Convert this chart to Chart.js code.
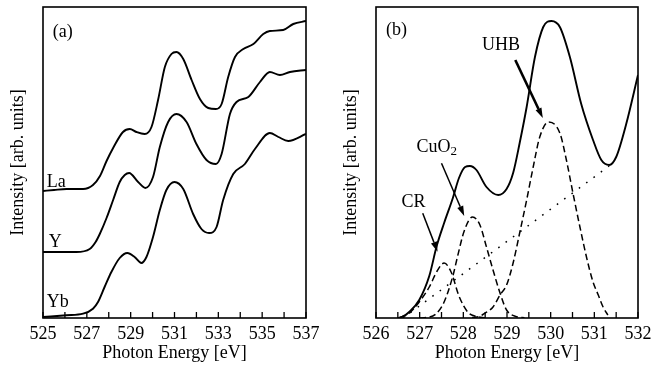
<!DOCTYPE html>
<html><head><meta charset="utf-8">
<script src="https://cdn.jsdelivr.net/npm/chart.js@4.4.1/dist/chart.umd.min.js"></script>
<style>
html,body{margin:0;padding:0;background:#fff;width:652px;height:369px;overflow:hidden;position:relative}
#wa{position:absolute;left:0;top:0;width:330px;height:369px}
#wb{position:absolute;left:330px;top:0;width:340px;height:369px}
</style></head><body>
<div id="wa"><canvas id="ca" width="330" height="369"></canvas></div>
<div id="wb"><canvas id="cb" width="340" height="369"></canvas></div>
<script>
// ---------- Panel (a): O K-edge spectra ----------
const laX = [525, 525.5, 526.07, 526.83, 527.28, 527.6, 527.9, 528.2, 528.65, 528.96, 529.26, 529.64, 529.95, 530.25, 530.56, 530.86, 531.09, 531.4, 531.78, 532.16, 532.54, 532.89, 533.15, 533.45, 533.76, 534.14, 534.6, 535.05, 535.35, 535.96, 536.42, 537];
const laY = [127, 128, 129, 129, 133, 142, 157, 170, 186, 189, 186, 184, 191, 218, 251, 264, 266, 259, 238, 219, 210, 209, 214, 241, 261, 269, 274, 284, 287, 288, 294, 297];

const yX = [525, 525.8, 526.52, 527.13, 527.4, 527.59, 527.9, 528.2, 528.5, 528.73, 528.93, 529.34, 529.67, 530.02, 530.33, 530.71, 531.09, 531.55, 532.0, 532.46, 532.89, 533.15, 533.53, 533.83, 534.37, 534.9, 535.35, 535.81, 536.27, 537];
const yY = [66, 66, 66, 69, 76, 84, 100, 118, 136, 143, 145, 136, 130, 141, 171, 196, 204, 196, 174, 158, 154, 164, 204, 216, 221, 236, 246, 243, 246, 248];

const ybX = [525, 526.07, 526.83, 527.28, 527.51, 527.81, 528.12, 528.5, 528.85, 529.18, 529.49, 529.72, 530.02, 530.33, 530.63, 531.0, 531.4, 531.85, 532.23, 532.58, 532.92, 533.22, 533.68, 534.21, 534.67, 535.35, 535.74, 536.19, 537];
const ybY = [1, 2.7, 4.3, 9.3, 16, 31, 46, 60, 65, 61, 55, 61, 81, 108, 128, 136, 129, 104, 89, 85, 91, 118, 144, 154, 169, 185, 181, 177, 184];

const aTickLabels = [525, 527, 529, 531, 533, 535, 537];

// ---------- Panel (b): fit of the pre-edge ----------
const bX = [526.5, 526.61, 526.76, 526.99, 527.22, 527.39, 527.56, 527.76, 527.9, 528.04, 528.15, 528.3, 528.53, 528.8, 528.99, 529.14, 529.29, 529.45, 529.64, 529.83, 530.02, 530.21, 530.44, 530.7, 530.97, 531.16, 531.34, 531.5, 531.73, 532];
const bY = [0, 1.3, 6, 18, 42, 72, 95, 120, 140, 151, 152, 148, 131, 123, 129, 145, 175, 211, 261, 291, 297, 291, 261, 214, 178, 158, 153, 161, 194, 243];

const crX = [526.55, 526.76, 526.99, 527.22, 527.4, 527.56, 527.72, 527.9, 528.1, 528.3, 528.5];
const crY = [0.5, 4.7, 16, 31, 47, 55, 46, 22, 6, 1.5, 0.3];

const cuX = [527.0, 527.15, 527.37, 527.56, 527.76, 527.87, 528.02, 528.21, 528.38, 528.53, 528.68, 528.84, 528.99, 529.22, 529.4];
const cuY = [0, 0.5, 4, 16, 42, 62, 87, 101, 93, 71, 48, 25, 8, 1.3, 0.2];

const uhbX = [528.2, 528.38, 528.49, 528.68, 528.84, 528.99, 529.14, 529.29, 529.45, 529.6, 529.75, 529.95, 530.21, 530.36, 530.51, 530.67, 530.82, 530.97, 531.09, 531.2, 531.31];
const uhbY = [0.5, 1.7, 4.7, 11, 23, 33, 55, 85, 118, 151, 181, 196, 185, 158, 125, 91, 61, 36, 23, 11, 3];

const bgX = [526.62, 531.34];
const bgY = [0, 152];

const bTickLabels = [526, 527, 528, 529, 530, 531, 532];

// ---------- annotations (data coordinates) ----------
const notesA = [
  {text: '(a)', x: 525.44, y: 286},
  {text: 'La', x: 525.17, y: 136},
  {text: 'Y', x: 525.26, y: 76},
  {text: 'Yb', x: 525.17, y: 16}
];
const notesB = [
  {text: '(b)', x: 526.23, y: 288},
  {text: 'UHB', x: 528.86, y: 273, align: 'center'},
  {text: 'CR', x: 526.86, y: 116, align: 'center'},
  {text: 'CuO', sub: '2', x: 526.93, y: 171}
];
const arrowsB = [
  {x1: 527.07, y1: 104.7, x2: 527.41, y2: 66.3, w: 1.5},
  {x1: 527.5, y1: 154.7, x2: 528.02, y2: 102, w: 1.5},
  {x1: 529.19, y1: 258, x2: 529.82, y2: 200, w: 2.6}
];

const FONT = "'Liberation Serif','Times New Roman',serif";
const FS = 18;
function pts(xs, ys) { return xs.map((x, i) => ({x: x, y: ys[i]})); }

const framePlugin = {
  id: 'frame',
  afterDatasetsDraw(chart, args, opts) {
    const ctx = chart.ctx, a = chart.chartArea, sx = chart.scales.x, sy = chart.scales.y;
    ctx.save();
    ctx.strokeStyle = '#000';
    ctx.fillStyle = '#000';
    ctx.lineWidth = 1.6;
    ctx.strokeRect(a.left, a.top, a.right - a.left, a.bottom - a.top);
    ctx.lineWidth = 1.3;
    sx.ticks.forEach(t => {
      const px = sx.getPixelForValue(t.value);
      ctx.beginPath(); ctx.moveTo(px, a.bottom); ctx.lineTo(px, a.bottom - 6); ctx.stroke();
    });
    (opts.notes || []).forEach(n => {
      const px = sx.getPixelForValue(n.x), py = sy.getPixelForValue(n.y);
      ctx.font = FS + 'px ' + FONT;
      ctx.textBaseline = 'middle';
      let w = ctx.measureText(n.text).width;
      let sw = 0;
      if (n.sub) { ctx.font = Math.round(FS * 0.72) + 'px ' + FONT; sw = ctx.measureText(n.sub).width; }
      let left = px;
      if (n.align === 'center') left = px - (w + sw) / 2;
      ctx.font = FS + 'px ' + FONT;
      ctx.textAlign = 'left';
      ctx.fillText(n.text, left, py);
      if (n.sub) {
        ctx.font = Math.round(FS * 0.72) + 'px ' + FONT;
        ctx.fillText(n.sub, left + w, py + 5);
      }
    });
    (opts.arrows || []).forEach(r => {
      const x1 = sx.getPixelForValue(r.x1), y1 = sy.getPixelForValue(r.y1);
      const x2 = sx.getPixelForValue(r.x2), y2 = sy.getPixelForValue(r.y2);
      const ang = Math.atan2(y2 - y1, x2 - x1);
      const L = 10, H = 3.2;
      const bx = x2 - L * Math.cos(ang), by = y2 - L * Math.sin(ang);
      ctx.lineWidth = r.w;
      ctx.beginPath(); ctx.moveTo(x1, y1); ctx.lineTo(bx, by); ctx.stroke();
      ctx.beginPath();
      ctx.moveTo(x2, y2);
      ctx.lineTo(bx + H * Math.sin(ang), by - H * Math.cos(ang));
      ctx.lineTo(bx - H * Math.sin(ang), by + H * Math.cos(ang));
      ctx.closePath(); ctx.fill();
    });
    ctx.restore();
  }
};

function lineDs(xs, ys, style) {
  const d = {
    data: pts(xs, ys), borderColor: '#000', borderWidth: 1.9, pointRadius: 0,
    fill: false, cubicInterpolationMode: 'monotone'
  };
  if (style === 'dash') { d.borderDash = [6.5, 3.5]; d.borderWidth = 1.5; }
  if (style === 'dot') { d.borderDash = [1.6, 7.5]; d.borderWidth = 1.5; d.cubicInterpolationMode = 'default'; d.tension = 0; }
  return d;
}

function makeOpts(xmin, xmax, step, labels, pad, yw, notes, arrows) {
  return {
    responsive: false, animation: false, devicePixelRatio: 1,
    layout: {padding: pad},
    plugins: {legend: {display: false}, tooltip: {enabled: false}, frame: {notes: notes, arrows: arrows}},
    scales: {
      x: {
        type: 'linear', min: xmin, max: xmax,
        grid: {display: false, drawTicks: false}, border: {display: false},
        ticks: {
          stepSize: step, autoSkip: false, maxRotation: 0, padding: 5, color: '#000',
          font: {family: FONT, size: FS},
          callback: v => labels.includes(v) ? String(v) : ''
        },
        title: {display: true, text: 'Photon Energy [eV]', color: '#000', font: {family: FONT, size: FS}, padding: {top: 4, bottom: 4}},
        afterFit: s => { s.height = 50; }
      },
      y: {
        type: 'linear', min: 0, max: 311,
        grid: {display: false, drawTicks: false}, border: {display: false},
        ticks: {display: false},
        title: {display: true, text: 'Intensity [arb. units]', color: '#000', font: {family: FONT, size: FS}, padding: {top: 4, bottom: 4}},
        afterFit: s => { s.width = yw; }
      }
    }
  };
}

new Chart(document.getElementById('ca'), {
  type: 'line',
  data: {datasets: [lineDs(laX, laY), lineDs(yX, yY), lineDs(ybX, ybY)]},
  options: makeOpts(525, 537, 1, aTickLabels, {left: 3, right: 24, top: 7, bottom: 1}, 40, notesA, []),
  plugins: [framePlugin]
});

new Chart(document.getElementById('cb'), {
  type: 'line',
  data: {datasets: [
    lineDs(bX, bY),
    lineDs(crX, crY, 'dash'),
    lineDs(cuX, cuY, 'dash'),
    lineDs(uhbX, uhbY, 'dash'),
    lineDs(bgX, bgY, 'dot')
  ]},
  options: makeOpts(526, 532, 0.5, bTickLabels, {left: 6, right: 32, top: 7, bottom: 1}, 40, notesB, arrowsB),
  plugins: [framePlugin]
});
</script>
</body></html>
